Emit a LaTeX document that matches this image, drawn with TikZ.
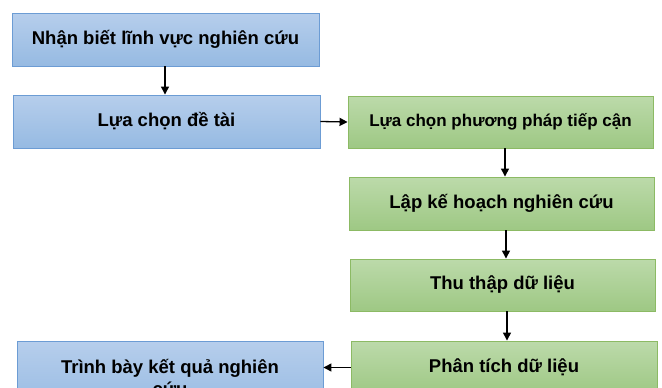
\documentclass[tikz,border=0pt]{standalone}
\usepackage{fontspec}
\setmainfont{Liberation Sans}
\usetikzlibrary{arrows.meta}
\definecolor{bluetop}{RGB}{182,206,236}
\definecolor{bluebot}{RGB}{150,186,226}
\definecolor{blueline}{RGB}{108,156,212}
\definecolor{greentop}{RGB}{188,218,170}
\definecolor{greenbot}{RGB}{158,200,132}
\definecolor{greenline}{RGB}{140,186,100}
\tikzset{
  box/.style={rectangle, line width=0.9pt, inner sep=0pt, align=center,
    font=\bfseries\fontsize{18.5}{22}\selectfont},
  bluebox/.style={box, draw=blueline, top color=bluetop, bottom color=bluebot},
  greenbox/.style={box, draw=greenline, top color=greentop, bottom color=greenbot},
  conn/.style={line width=1.3pt, -{Triangle[length=8pt,width=8pt]}}
}
\begin{document}
\begin{tikzpicture}[x=1pt,y=-1pt]
\useasboundingbox (0,0) rectangle (662,388);
\clip (0,0) rectangle (662,388);
\node[bluebox, minimum width=307, minimum height=53] (b1) at (165.5,39.5) {Nhận biết lĩnh vực nghiên cứu};
\node[bluebox, minimum width=307, minimum height=53] (b2) at (166.5,121.5) {Lựa chọn đề tài};
\node[greenbox, minimum width=305, minimum height=52, font=\bfseries\fontsize{17}{20}\selectfont] (b3) at (500.5,122) {Lựa chọn phương pháp tiếp cận};
\node[greenbox, minimum width=305, minimum height=53] (b4) at (501.5,203.5) {Lập kế hoạch nghiên cứu};
\node[greenbox, minimum width=305, minimum height=52] (b5) at (502.5,285) {Thu thập dữ liệu};
\node[greenbox, minimum width=306, minimum height=53] (b6) at (504,367.5) {Phân tích dữ liệu};
\node[bluebox, minimum width=306, minimum height=72] (b7) at (170,377) {Trình bày kết quả nghiên\\cứu};
\draw[conn] (b1.south -| 165,0) -- (b2.north -| 165,0);
\draw[conn] (b2.east) -- (b3.west);
\draw[conn] (b3.south -| 505,0) -- (b4.north -| 505,0);
\draw[conn] (b4.south -| 506,0) -- (b5.north -| 506,0);
\draw[conn] (b5.south -| 507,0) -- (b6.north -| 507,0);
\draw[conn] (b6.west) -- (b6.west -| b7.east);
\end{tikzpicture}
\end{document}
